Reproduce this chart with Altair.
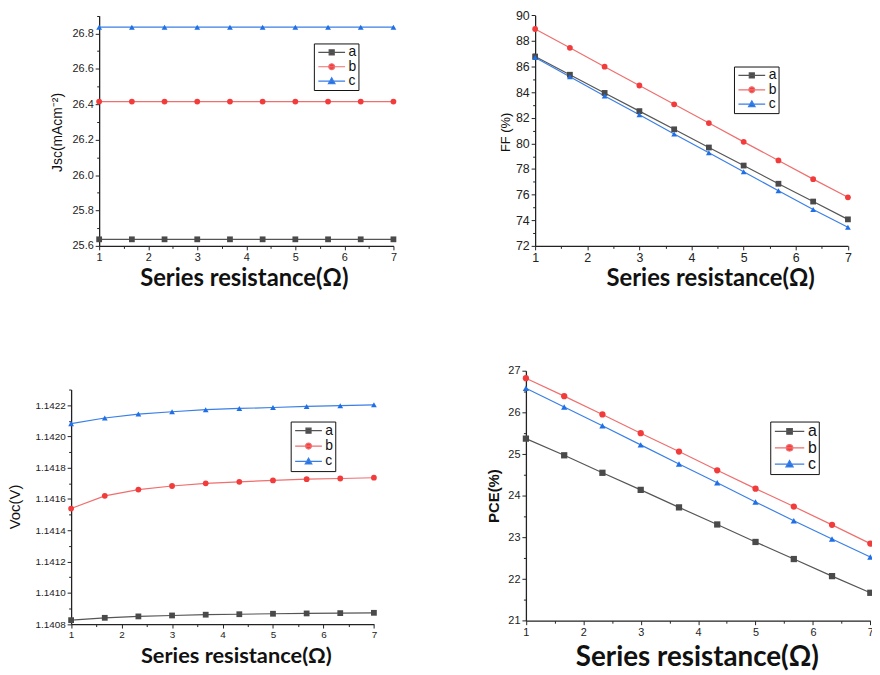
import altair as alt
import pandas as pd

# ---------------- data ----------------
series = ["a", "b", "c"]
r_vals = [1, 1.667, 2.333, 3, 3.667, 4.333, 5, 5.667, 6.333, 7]

jsc_a = [25.637] * 10
jsc_b = [26.415] * 10
jsc_c = [26.835] * 10

ff_a = [86.78, 85.36, 83.94, 82.52, 81.10, 79.68, 78.27, 76.85, 75.46, 74.07]
ff_b = [88.93, 87.46, 85.99, 84.52, 83.05, 81.59, 80.12, 78.67, 77.21, 75.79]
ff_c = [86.70, 85.20, 83.70, 82.24, 80.74, 79.27, 77.78, 76.31, 74.84, 73.45]

voc_a = [1.140825, 1.140840, 1.140849, 1.140855, 1.140860, 1.140863, 1.140866, 1.140868, 1.140870, 1.140872]
voc_b = [1.141539, 1.141620, 1.141660, 1.141683, 1.141700, 1.141710, 1.141719, 1.141727, 1.141731, 1.141736]
voc_c = [1.142082, 1.142118, 1.142143, 1.142158, 1.142171, 1.142179, 1.142185, 1.142192, 1.142197, 1.142202]

pce_a = [25.37, 24.97, 24.55, 24.14, 23.72, 23.31, 22.89, 22.48, 22.07, 21.67]
pce_b = [26.82, 26.39, 25.95, 25.50, 25.06, 24.61, 24.17, 23.74, 23.30, 22.85]
pce_c = [26.58, 26.13, 25.68, 25.22, 24.76, 24.31, 23.85, 23.40, 22.96, 22.53]

x_major = [1, 2, 3, 4, 5, 6, 7]
x_minor = [1.5, 2.5, 3.5, 4.5, 5.5, 6.5]

LINE_COLORS = ["#555555", "#f06e6e", "#3a7fe6"]
MARK_COLORS = ["#4a4a4a", "#f23c3c", "#1f6fe6"]
POINT_SHAPES = ["square", "circle", "triangle-up"]
LEGEND_PATHS = [
    "M-0.9,0H0.9M-0.17,-0.17H0.17V0.17H-0.17Z",
    "M-0.9,0H0.9M0.2,0A0.2,0.2 0 1,1 -0.2,0A0.2,0.2 0 1,1 0.2,0Z",
    "M-0.9,0H0.9M0,-0.22L0.22,0.17L-0.22,0.17Z",
]

W, H = 872, 664
FONT = "Liberation Sans"


def make_df(a, b, c):
    rows = []
    for s, vals in zip(series, [a, b, c]):
        for r, v in zip(r_vals, vals):
            rows.append({"R": r, "val": v, "series": s})
    return pd.DataFrame(rows)


def panel(df, xr, yr, yd, y_major, y_minor, yfmt, ytitle, ytitle_font, ytitle_bold,
          ytitle_dx, ytitle_y, xtitle_x, xtitle_y, xtitle_size, label_size,
          leg_x, leg_y, leg_font, leg_size, leg_clip, msize):
    x_axis_off = yr[0] - H
    y_axis_off = -xr[0]
    xs = alt.Scale(domain=[1, 7], range=xr, nice=False, zero=False)
    ys = alt.Scale(domain=yd, range=yr, nice=False, zero=False)

    major_x = alt.Axis(orient="bottom", offset=x_axis_off, values=x_major, format="d",
                       title="Series resistance(Ω)", titleFont="Lato", titleFontWeight="bold",
                       titleFontSize=xtitle_size, titleColor="#111", titleX=xtitle_x, titleY=xtitle_y,
                       titleAlign="center", titleBaseline="alphabetic",
                       labelFontSize=label_size, labelFont=FONT, labelColor="#222",
                       tickSize=4, labelPadding=2, grid=False, domainColor="#222",
                       tickColor="#222", domainWidth=1.3, labelFlush=False)
    major_y = alt.Axis(orient="left", offset=y_axis_off, values=y_major, format=yfmt,
                       title=ytitle, titleFont=FONT, titleFontWeight="bold" if ytitle_bold else "normal",
                       titleFontSize=ytitle_font, titleColor="#111", titleX=ytitle_dx, titleY=ytitle_y,
                       titleAngle=270, titleAlign="center", titleBaseline="middle",
                       labelFontSize=label_size, labelFont=FONT, labelColor="#222",
                       tickSize=4, labelPadding=2, grid=False, domainColor="#222",
                       tickColor="#222", domainWidth=1.3, labelFlush=False)
    minor_x = alt.Axis(orient="bottom", offset=x_axis_off, values=x_minor, labels=False,
                       domain=False, title=None, tickSize=2.5, grid=False, tickColor="#222")
    minor_y = alt.Axis(orient="left", offset=y_axis_off, values=y_minor, labels=False,
                       domain=False, title=None, tickSize=2.5, grid=False, tickColor="#222")

    line = alt.Chart(df).mark_line(strokeWidth=1.2).encode(
        x=alt.X("R:Q", scale=xs, axis=major_x),
        y=alt.Y("val:Q", scale=ys, axis=major_y),
        color=alt.Color("series:N", scale=alt.Scale(domain=series, range=LINE_COLORS), legend=None),
    )
    pts = alt.Chart(df).mark_point(filled=True, size=msize, opacity=1).encode(
        x=alt.X("R:Q", scale=xs, axis=None),
        y=alt.Y("val:Q", scale=ys, axis=None),
        color=alt.Color("series:N", scale=alt.Scale(domain=series, range=MARK_COLORS), legend=None),
        shape=alt.Shape("series:N", scale=alt.Scale(domain=series, range=POINT_SHAPES), legend=None),
    )
    leg = alt.Legend(orient="none", legendX=leg_x, legendY=leg_y, title=None,
                     strokeColor="#111", padding=2, labelFont=FONT, labelFontSize=leg_font,
                     labelColor="#111", labelOffset=1, symbolSize=leg_size, clipHeight=leg_clip,
                     rowPadding=0.5, symbolStrokeWidth=1.2, labelLimit=50)
    legend_layer = alt.Chart(df).transform_filter("false").mark_point(filled=True, strokeWidth=1.2, opacity=1).encode(
        x=alt.X("R:Q", scale=xs, axis=minor_x),
        y=alt.Y("val:Q", scale=ys, axis=minor_y),
        fill=alt.Fill("series:N", scale=alt.Scale(domain=series, range=MARK_COLORS), legend=leg),
        stroke=alt.Stroke("series:N", scale=alt.Scale(domain=series, range=LINE_COLORS), legend=leg),
        shape=alt.Shape("series:N", scale=alt.Scale(domain=series, range=LEGEND_PATHS), legend=leg),
    )
    return [line, pts, legend_layer]


layers = []
layers += panel(make_df(jsc_a, jsc_b, jsc_c), xr=[92, 389], yr=[237, 4.7], yd=[25.6, 26.9],
                y_major=[25.6, 25.8, 26.0, 26.2, 26.4, 26.6, 26.8],
                y_minor=[25.7, 25.9, 26.1, 26.3, 26.5, 26.7, 26.9], yfmt=".1f",
                ytitle="Jsc(mAcm⁻²)", ytitle_font=14, ytitle_bold=False, ytitle_dx=-42, ytitle_y=122,
                xtitle_x=238, xtitle_y=40, xtitle_size=24, label_size=11,
                leg_x=308.7, leg_y=32.7, leg_font=14, leg_size=900, leg_clip=14, msize=34)
layers += panel(make_df(ff_a, ff_b, ff_c), xr=[532, 847.7], yr=[237, 4.3], yd=[72, 90],
                y_major=[72, 74, 76, 78, 80, 82, 84, 86, 88, 90],
                y_minor=[73, 75, 77, 79, 81, 83, 85, 87, 89], yfmt="d",
                ytitle="FF (%)", ytitle_font=13, ytitle_bold=False, ytitle_dx=-30, ytitle_y=122,
                xtitle_x=708.7, xtitle_y=40, xtitle_size=24, label_size=12.5,
                leg_x=732.7, leg_y=56, leg_font=14, leg_size=900, leg_clip=14, msize=34)
layers += panel(make_df(voc_a, voc_b, voc_c), xr=[63.7, 369.3], yr=[618.7, 382], yd=[1.1408, 1.1423],
                y_major=[1.1408, 1.141, 1.1412, 1.1414, 1.1416, 1.1418, 1.142, 1.1422],
                y_minor=[1.1409, 1.1411, 1.1413, 1.1415, 1.1417, 1.1419, 1.1421, 1.1423], yfmt=".4f",
                ytitle="Voc(V)", ytitle_font=15, ytitle_bold=False, ytitle_dx=-56.7, ytitle_y=500,
                xtitle_x=230, xtitle_y=39, xtitle_size=22, label_size=10,
                leg_x=285.3, leg_y=414.3, leg_font=14, leg_size=900, leg_clip=14.5, msize=34)
layers += panel(make_df(pce_a, pce_b, pce_c), xr=[522.7, 870.3], yr=[615.3, 363], yd=[21, 27],
                y_major=[21, 22, 23, 24, 25, 26, 27],
                y_minor=[21.5, 22.5, 23.5, 24.5, 25.5, 26.5], yfmt="d",
                ytitle="PCE(%)", ytitle_font=15, ytitle_bold=True, ytitle_dx=-32.7, ytitle_y=489,
                xtitle_x=695.3, xtitle_y=45, xtitle_size=28, label_size=11,
                leg_x=769.3, leg_y=414.3, leg_font=16, leg_size=1089, leg_clip=16, msize=40)

chart = alt.layer(*layers).resolve_scale(
    x="independent", y="independent", color="independent",
    fill="independent", stroke="independent", shape="independent",
).resolve_axis(x="independent", y="independent").resolve_legend(
    color="independent", fill="independent", stroke="independent", shape="independent",
).properties(
    width=W, height=H, autosize=alt.AutoSizeParams(type="none"), padding=0,
    background="white",
).configure_view(stroke=None)

chart.save("out.html", embed_options={"renderer": "svg", "actions": False})
